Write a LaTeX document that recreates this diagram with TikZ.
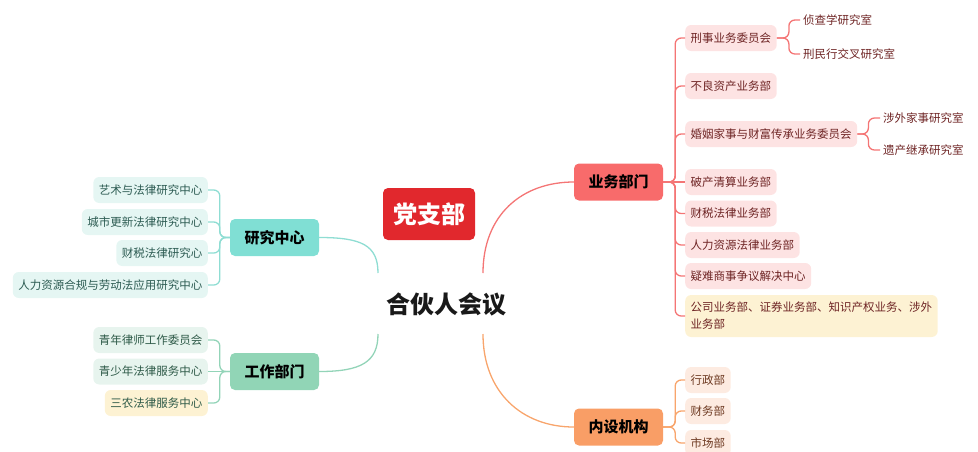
\documentclass[tikz,border=0pt]{standalone}
\usepackage{fontspec}
\setmainfont{Noto Sans CJK SC}
\usepackage{tikz}
\usetikzlibrary{positioning}

\definecolor{partyred}{HTML}{E1282D}
\definecolor{bizred}{HTML}{F86B6B}
\definecolor{bizline}{HTML}{F47575}
\definecolor{bizfill}{HTML}{FDE3E3}
\definecolor{bizdark}{HTML}{6E2424}
\definecolor{orgorange}{HTML}{F99E66}
\definecolor{orgline}{HTML}{F8A56C}
\definecolor{orgfill}{HTML}{FDEBE1}
\definecolor{orgdark}{HTML}{6E3A22}
\definecolor{resteal}{HTML}{80DFD4}
\definecolor{resline}{HTML}{8FDDD3}
\definecolor{resfill}{HTML}{E5F6F3}
\definecolor{resdark}{HTML}{2C5B52}
\definecolor{workgreen}{HTML}{91D5B6}
\definecolor{workline}{HTML}{93D4B8}
\definecolor{workfill}{HTML}{E7F4EE}
\definecolor{workdark}{HTML}{2E5A48}
\definecolor{notefill}{HTML}{FDF2D3}

\begin{document}
\begin{tikzpicture}[x=1pt,y=-1pt,
    topic/.style={rounded corners=5pt,minimum width=89pt,minimum height=37pt,inner sep=0pt,font=\fontsize{15}{18}\selectfont\bfseries,text=black},
    sub/.style={rounded corners=6pt,minimum height=26pt,inner xsep=5.5pt,inner ysep=0pt,font=\fontsize{11.5}{14}\selectfont},
    leaf/.style={inner xsep=3pt,inner ysep=0pt,font=\fontsize{11.5}{14}\selectfont},
    link/.style={line width=1.3pt,rounded corners=6pt}]
\useasboundingbox (0,0) rectangle (978,451);

% centre and party branch
\node[font=\fontsize{24}{28}\selectfont\bfseries,text=black!90] (meeting) at (446,304) {合伙人会议};
\node[fill=partyred,text=white,rounded corners=5pt,minimum width=92pt,minimum height=52pt,inner sep=0pt,font=\fontsize{24}{28}\selectfont\bfseries] (party) at (429,214) {党支部};
\coordinate (mNW) at (378,273);
\coordinate (mSW) at (378,334);
\coordinate (mNE) at (483,273);
\coordinate (mSE) at (483,334);

% main topics
\node[topic,fill=bizred] (biz) at (618.5,182) {业务部门};
\node[topic,fill=orgorange] (org) at (618.5,427) {内设机构};
\node[topic,fill=resteal] (res) at (274.5,237.5) {研究中心};
\node[topic,fill=workgreen] (work) at (274.5,371.5) {工作部门};

\draw[link,resline] (mNW) .. controls +(0,-28) and +(42,0) .. (res.east);
\draw[link,workline] (mSW) .. controls +(0,28) and +(42,0) .. (work.east);
\draw[link,bizline] (mNE) .. controls +(0,-58) and +(-52,0) .. (biz.west);
\draw[link,orgline] (mSE) .. controls +(0,58) and +(-52,0) .. (org.west);

% business departments
\node[sub,fill=bizfill,text=bizdark,anchor=west] (crim) at (685,38) {刑事业务委员会};
\node[sub,fill=bizfill,text=bizdark,anchor=west] (npl) at (685,86) {不良资产业务部};
\node[sub,fill=bizfill,text=bizdark,anchor=west] (fam) at (685,134) {婚姻家事与财富传承业务委员会};
\node[sub,fill=bizfill,text=bizdark,anchor=west] (bank) at (685,182) {破产清算业务部};
\node[sub,fill=bizfill,text=bizdark,anchor=west] (tax) at (685,213.5) {财税法律业务部};
\node[sub,fill=bizfill,text=bizdark,anchor=west] (hr) at (685,245) {人力资源法律业务部};
\node[sub,fill=bizfill,text=bizdark,anchor=west] (disp) at (685,276) {疑难商事争议解决中心};
\node[sub,fill=notefill,text=bizdark,anchor=west,minimum height=42pt,align=left,font=\fontsize{11.5}{17}\selectfont] (corp) at (685,316) {公司业务部、证券业务部、知识产权业务、涉外\\业务部};
\draw[link,bizline] (biz.east) -- ++(12,0) |- (crim.west);
\draw[link,bizline] (biz.east) -- ++(12,0) |- (npl.west);
\draw[link,bizline] (biz.east) -- ++(12,0) |- (fam.west);
\draw[link,bizline] (biz.east) -- (bank.west);
\draw[link,bizline] (biz.east) -- ++(12,0) |- (tax.west);
\draw[link,bizline] (biz.east) -- ++(12,0) |- (hr.west);
\draw[link,bizline] (biz.east) -- ++(12,0) |- (disp.west);
\draw[link,bizline] (biz.east) -- ++(12,0) |- (corp.west);

% research rooms
\node[leaf,text=bizdark,anchor=west] (invest) at (800,20) {侦查学研究室};
\node[leaf,text=bizdark,anchor=west] (cross) at (800,54) {刑民行交叉研究室};
\node[leaf,text=bizdark,anchor=west] (foreign) at (880,118) {涉外家事研究室};
\node[leaf,text=bizdark,anchor=west] (inherit) at (880,150) {遗产继承研究室};
\draw[link,bizline] (crim.east) -- ++(12,0) |- (invest.west);
\draw[link,bizline] (crim.east) -- ++(12,0) |- (cross.west);
\draw[link,bizline] (fam.east) -- ++(11,0) |- (foreign.west);
\draw[link,bizline] (fam.east) -- ++(11,0) |- (inherit.west);

% internal bodies
\node[sub,fill=orgfill,text=orgdark,anchor=west] (admin) at (685,380) {行政部};
\node[sub,fill=orgfill,text=orgdark,anchor=west] (fin) at (685,411) {财务部};
\node[sub,fill=orgfill,text=orgdark,anchor=west] (mkt) at (685,443) {市场部};
\draw[link,orgline] (org.east) -- ++(12,0) |- (admin.west);
\draw[link,orgline] (org.east) -- ++(12,0) |- (fin.west);
\draw[link,orgline] (org.east) -- ++(12,0) |- (mkt.west);

% research centres
\node[sub,fill=resfill,text=resdark,anchor=east] (art) at (208,190) {艺术与法律研究中心};
\node[sub,fill=resfill,text=resdark,anchor=east] (urban) at (208,222) {城市更新法律研究中心};
\node[sub,fill=resfill,text=resdark,anchor=east] (taxres) at (208,253) {财税法律研究心};
\node[sub,fill=resfill,text=resdark,anchor=east] (labour) at (208,285) {人力资源合规与劳动法应用研究中心};
\draw[link,resline] (res.west) -- ++(-10,0) |- (art.east);
\draw[link,resline] (res.west) -- ++(-10,0) |- (urban.east);
\draw[link,resline] (res.west) -- ++(-10,0) |- (taxres.east);
\draw[link,resline] (res.west) -- ++(-10,0) |- (labour.east);

% working departments
\node[sub,fill=workfill,text=workdark,anchor=east] (young) at (208,340) {青年律师工作委员会};
\node[sub,fill=workfill,text=workdark,anchor=east] (youth) at (208,371.5) {青少年法律服务中心};
\node[sub,fill=notefill,text=workdark,anchor=east] (rural) at (208,403) {三农法律服务中心};
\draw[link,workline] (work.west) -- ++(-10,0) |- (young.east);
\draw[link,workline] (work.west) -- (youth.east);
\draw[link,workline] (work.west) -- ++(-10,0) |- (rural.east);
\end{tikzpicture}
\end{document}
